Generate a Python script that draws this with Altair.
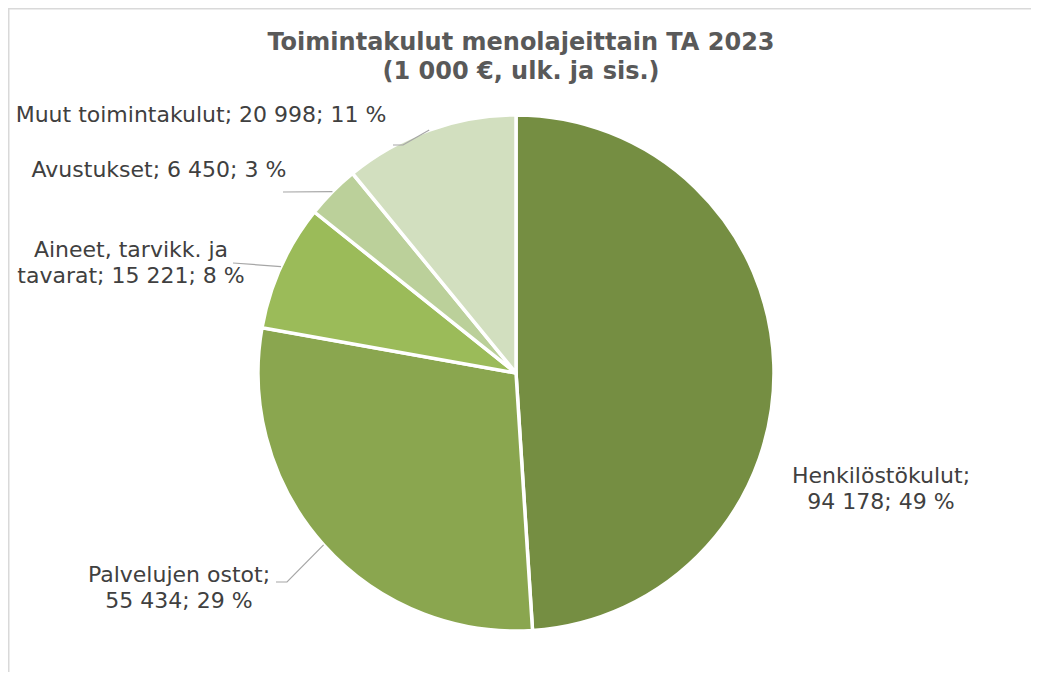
import math
import altair as alt
import pandas as pd

# ---- data ----
CATEGORIES = ["Henkilöstökulut", "Palvelujen ostot", "Aineet, tarvikk. ja tavarat",
              "Avustukset", "Muut toimintakulut"]
VALUES = [94178, 55434, 15221, 6450, 20998]
PERCENTS = [49, 29, 8, 3, 11]
LABEL_LINES = [
    ["Henkilöstökulut;", "94 178; 49 %"],
    ["Palvelujen ostot;", "55 434; 29 %"],
    ["Aineet, tarvikk. ja", "tavarat; 15 221; 8 %"],
    ["Avustukset; 6 450; 3 %"],
    ["Muut toimintakulut; 20 998; 11 %"],
]
COLORS = ["#758E42", "#8AA64F", "#9BBB59", "#BBD09A", "#D2DFBF"]
TITLE_LINES = ["Toimintakulut menolajeittain TA 2023", "(1 000 €, ulk. ja sis.)"]

# ---- layout (pixels inside the chart) ----
W, H = 1023, 664
CX, CY, R = 508, 365, 258
FONT = "DejaVu Sans"
# label first-line centre positions (Excel best-fit placement)
LABEL_POS = {
    "Henkilöstökulut": (873, 468),
    "Palvelujen ostot": (171, 567),
    "Aineet, tarvikk. ja tavarat": (123, 242),
    "Avustukset": (151, 162),
    "Muut toimintakulut": (193, 107),
}
# leader-line extra points (after the slice edge point)
LEADER_PTS = {
    "Palvelujen ostot": [(279, 574), (268, 574)],
    "Aineet, tarvikk. ja tavarat": [(225, 255)],
    "Avustukset": [(275, 184)],
    "Muut toimintakulut": [(395, 137), (385, 137)],
}

df = pd.DataFrame({
    "cat": CATEGORIES,
    "value": VALUES,
    "pct": PERCENTS,
    "label": LABEL_LINES,
    "order": list(range(len(CATEGORIES))),
})
df["lx"] = [LABEL_POS[c][0] for c in CATEGORIES]
df["ly"] = [LABEL_POS[c][1] for c in CATEGORIES]

# leader lines: start at slice edge at its mid-angle (computed from values)
total = sum(VALUES)
rows = []
cum = 0
for c, v in zip(CATEGORIES, VALUES):
    mid = (cum + v / 2) / total * 2 * math.pi
    cum += v
    if c not in LEADER_PTS:
        continue
    pts = [(CX + R * math.sin(mid), CY - R * math.cos(mid))] + LEADER_PTS[c]
    for i, (px, py) in enumerate(pts):
        rows.append({"cat": c, "i": i, "px": px, "py": py})
lead = pd.DataFrame(rows)

color_scale = alt.Scale(domain=CATEGORIES, range=COLORS)

one = pd.DataFrame({"t": [TITLE_LINES]})

# chart frame (top and left edges; the others fall outside the window)
frame_top = alt.Chart(one).mark_rule(color="#D9D9D9", strokeWidth=1.5).encode(
    x=alt.value(0), x2=alt.value(W + 20), y=alt.value(0.75)
)
frame_left = alt.Chart(one).mark_rule(color="#D9D9D9", strokeWidth=1.5).encode(
    y=alt.value(0), y2=alt.value(H + 30), x=alt.value(0.75)
)

pie = alt.Chart(df).mark_arc(
    outerRadius=R, stroke="white", strokeWidth=3.5
).encode(
    theta=alt.Theta("value:Q", stack=True),
    order=alt.Order("order:Q"),
    color=alt.Color("cat:N", scale=color_scale, legend=None),
    x=alt.value(CX),
    y=alt.value(CY),
)

leaders = alt.Chart(lead).mark_line(color="#A6A6A6", strokeWidth=1.2).encode(
    x=alt.X("px:Q", scale=None),
    y=alt.Y("py:Q", scale=None),
    detail="cat:N",
    order="i:Q",
)

labels = alt.Chart(df).mark_text(
    font=FONT, fontSize=22, color="#404040", align="center",
    baseline="middle", lineHeight=26,
).encode(
    x=alt.X("lx:Q", scale=None),
    y=alt.Y("ly:Q", scale=None),
    text="label",
)

title = alt.Chart(one).mark_text(
    font=FONT, fontSize=24, fontWeight="bold", color="#595959",
    align="center", baseline="middle", lineHeight=29,
).encode(
    x=alt.value(513), y=alt.value(35), text="t"
)

chart = alt.layer(frame_top, frame_left, pie, leaders, labels, title).properties(
    width=W, height=H, padding=0,
    autosize=alt.AutoSizeParams(type="none"),
).configure_view(stroke=None)

chart.save("out.html", embed_options={"renderer": "svg", "actions": False})
